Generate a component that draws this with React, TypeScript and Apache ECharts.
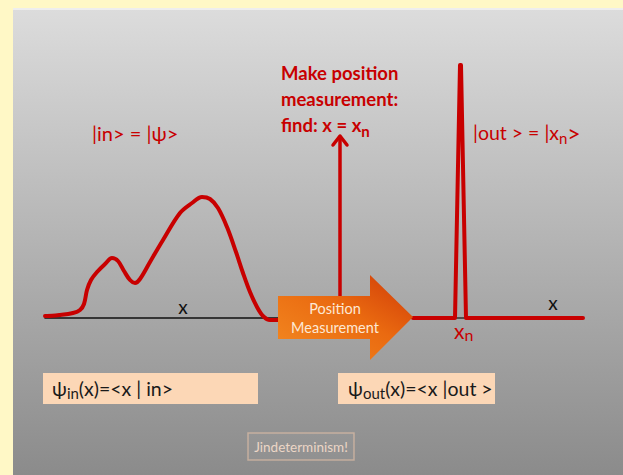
import React, { useEffect, useRef } from "react";
import * as echarts from "echarts";

// psi_in(x): position offset along the left axis and amplitude above baseline
const inX = [0, 2, 15, 28, 35, 39, 42, 46, 52, 60, 67, 73, 79, 85, 90, 95, 105, 118, 135, 147, 157, 165, 173, 182, 191, 198, 205, 212, 218, 225, 233];
const inAmp = [2, 2, 3, 5, 8, 14, 28, 38, 46, 54, 60, 57, 47, 38, 35, 39, 56, 78, 105, 115, 121, 119, 110, 91, 66, 45, 26, 11, 2, -2, -2];
// psi_out(x): sharp spike at x_n
const outX = [0, 42, 47, 48, 53, 170];
const outAmp = [0, 0, 253, 253, 0, 0];

const RED = "#c80000";
const FONT = "Lato, 'Noto Sans', 'DejaVu Sans', sans-serif";

export default function App() {
  const ref = useRef<HTMLDivElement>(null);
  useEffect(() => {
    if (!ref.current) return;
    const chart = echarts.init(ref.current, null, { renderer: "svg" });
    const axisCommon = {
      axisLabel: { show: false },
      axisTick: { show: false },
      splitLine: { show: false },
    };
    const sub = { fontSize: 14, lineHeight: 12, verticalAlign: "bottom" as const, fontFamily: FONT };
    chart.setOption({
      animation: false,
      backgroundColor: "#fff8c6",
      grid: [
        { left: 45, width: 233, top: 58, height: 260 },
        { left: 413, width: 170, top: 58, height: 260 },
      ],
      xAxis: [
        { type: "value", gridIndex: 0, min: 0, max: 233, ...axisCommon, axisLine: { show: true, lineStyle: { color: "#111", width: 1.6 } } },
        { type: "value", gridIndex: 1, min: 0, max: 170, ...axisCommon, axisLine: { show: true, lineStyle: { color: "#333", width: 1.6 } } },
      ],
      yAxis: [
        { type: "value", gridIndex: 0, min: 0, max: 260, ...axisCommon, axisLine: { show: false } },
        { type: "value", gridIndex: 1, min: 0, max: 260, ...axisCommon, axisLine: { show: false } },
      ],
      series: [
        {
          type: "line", xAxisIndex: 0, yAxisIndex: 0, smooth: 0.35, symbol: "none", clip: false,
          lineStyle: { color: RED, width: 4, cap: "round", join: "round" },
          data: inX.map((x, i) => [x, inAmp[i]]),
        },
        {
          type: "line", xAxisIndex: 1, yAxisIndex: 1, smooth: false, symbol: "none", clip: false,
          lineStyle: { color: RED, width: 4, cap: "round", join: "round" },
          data: outX.map((x, i) => [x, outAmp[i]]),
        },
      ],
      graphic: [
        {
          type: "rect", z: -10, silent: true,
          shape: { x: 13, y: 9, width: 610, height: 466 },
          style: {
            fill: new echarts.graphic.LinearGradient(0, 0, 0, 1, [
              { offset: 0, color: "#dcdcdc" },
              { offset: 1, color: "#8b8b8b" },
            ]),
          },
        },
        { type: "rect", z: -9, silent: true, shape: { x: 13, y: 8, width: 610, height: 2 }, style: { fill: "#eeeeee" } },
        // vertical measurement arrow
        { type: "polyline", z: 5, shape: { points: [[340, 298], [340, 137]] }, style: { stroke: RED, lineWidth: 3.5, fill: null } },
        { type: "polyline", z: 5, shape: { points: [[333, 145], [340, 136], [347, 145]] }, style: { stroke: RED, lineWidth: 3.5, fill: null, lineCap: "round", lineJoin: "round" } },
        // orange block arrow
        {
          type: "polygon", z: 6,
          shape: { points: [[278, 296], [370, 296], [370, 275], [413, 317], [370, 360], [370, 339], [278, 339]] },
          style: {
            fill: new echarts.graphic.LinearGradient(0, 1, 1, 0, [
              { offset: 0, color: "#f38a22" },
              { offset: 0.55, color: "#ea6a10" },
              { offset: 1, color: "#cf3a08" },
            ]),
          },
        },
        {
          type: "text", z: 7, x: 335, y: 318,
          style: { text: "Position\nMeasurement", fill: "#fde8d4", font: `14.5px ${FONT}`, align: "center", verticalAlign: "middle", lineHeight: 19 },
        },
        // texts
        {
          type: "text", z: 7, x: 281, y: 60,
          style: {
            text: "Make position\nmeasurement:\nfind: x = x{sub|n}",
            fill: RED, fontSize: 18.5, fontWeight: "bold", fontFamily: FONT, lineHeight: 26, verticalAlign: "top",
            rich: { sub: { ...sub, fontWeight: "bold", fill: RED, fontSize: 15, lineHeight: 12 } },
          },
        },
        {
          type: "text", z: 7, x: 92, y: 133,
          style: { text: "|in> = |ψ>", fill: RED, fontSize: 20, fontFamily: FONT, verticalAlign: "middle" },
        },
        {
          type: "text", z: 7, x: 473, y: 120,
          style: {
            text: "|out > = |x{sub|n}{big|>}", fill: RED, fontSize: 19.5, fontFamily: FONT, lineHeight: 25, verticalAlign: "top",
            rich: { sub: { ...sub, fill: RED, fontSize: 15 }, big: { fontSize: 23, fontFamily: FONT, fill: RED, lineHeight: 25 } },
          },
        },
        { type: "text", z: 7, x: 183, y: 306, style: { text: "x", fill: "#111", fontSize: 19, fontFamily: FONT, align: "center", verticalAlign: "middle" } },
        { type: "text", z: 7, x: 553, y: 302, style: { text: "x", fill: "#111", fontSize: 19, fontFamily: FONT, align: "center", verticalAlign: "middle" } },
        {
          type: "text", z: 7, x: 454, y: 318,
          style: {
            text: "x{sub|n}", fill: RED, fontSize: 21, fontFamily: FONT, lineHeight: 24, verticalAlign: "top",
            rich: { sub: { ...sub, fill: RED, fontSize: 16, lineHeight: 14 } },
          },
        },
        // formula boxes
        { type: "rect", z: 3, shape: { x: 43, y: 373, width: 215, height: 31 }, style: { fill: "#fcd7b6" } },
        { type: "rect", z: 3, shape: { x: 338, y: 373, width: 157, height: 31 }, style: { fill: "#fcd7b6" } },
        {
          type: "text", z: 7, x: 52, y: 376,
          style: {
            text: "ψ{sub|in}(x)=<x | in>", fill: "#1a1a1a", fontSize: 19.5, fontFamily: FONT, lineHeight: 24, verticalAlign: "top",
            rich: { sub: { ...sub, fill: "#1a1a1a", fontSize: 15 } },
          },
        },
        {
          type: "text", z: 7, x: 348, y: 376,
          style: {
            text: "ψ{sub|out}(x)=<x |out >", fill: "#1a1a1a", fontSize: 19.5, fontFamily: FONT, lineHeight: 24, verticalAlign: "top",
            rich: { sub: { ...sub, fill: "#1a1a1a", fontSize: 15 } },
          },
        },
        // footer tag
        { type: "rect", z: 3, shape: { x: 248, y: 433, width: 106, height: 27 }, style: { fill: "rgba(255,255,255,0.03)", stroke: "rgba(240,200,170,0.55)", lineWidth: 1.5 } },
        { type: "text", z: 7, x: 301, y: 447, style: { text: "Jindeterminism!", fill: "#ecd6c6", fontSize: 13.5, fontFamily: FONT, align: "center", verticalAlign: "middle" } },
      ],
    });
    return () => chart.dispose();
  }, []);
  return <div ref={ref} style={{ position: "absolute", left: 0, top: 0, width: 623, height: 475 }} />;
}
